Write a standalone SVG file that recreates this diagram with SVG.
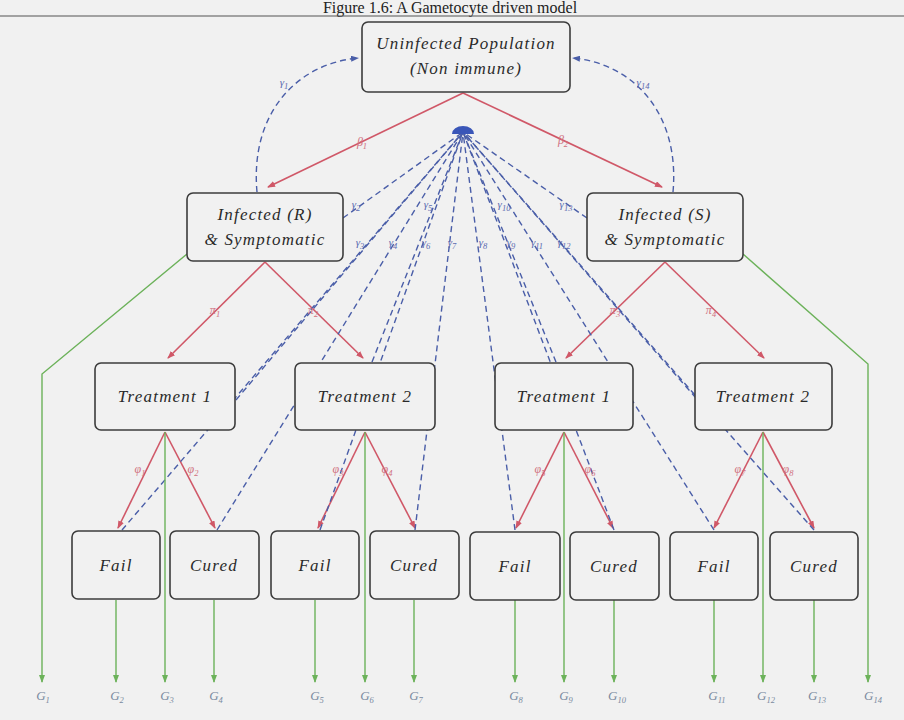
<svg xmlns="http://www.w3.org/2000/svg" width="904" height="720" viewBox="0 0 904 720">
  <style>
    .bg { fill: #f1f1f1; }
    .box { fill: #f1f1f1; stroke: #3c3c3c; stroke-width: 1.6; }
    .lbl { font-family: "Liberation Serif", "DejaVu Serif", serif; font-style: italic; font-size: 17px; letter-spacing: 1.2px; fill: #2a2a2a; text-anchor: middle; }
    .red { stroke: #d05868; stroke-width: 1.6; fill: none; }
    .blue { stroke: #4a5ea8; stroke-width: 1.4; fill: none; stroke-dasharray: 6 4; }
    .green { stroke: #6cb25a; stroke-width: 1.4; fill: none; }
    .rt { font-family: "Liberation Serif", serif; font-style: italic; font-size: 12px; fill: #d07080; text-anchor: middle; }
    .bt { font-family: "Liberation Serif", serif; font-style: italic; font-size: 11px; fill: #5a6ab0; text-anchor: middle; }
    .gt { font-family: "Liberation Serif", serif; font-style: italic; font-size: 13px; fill: #7a8aa0; text-anchor: middle; }
    .sub { font-size: 8.5px; }
    .title { font-family: "Liberation Serif", serif; font-size: 16px; fill: #222; text-anchor: middle; }
  </style>
  <defs>
    <marker id="ar" markerWidth="8" markerHeight="6" refX="7" refY="3" orient="auto" markerUnits="userSpaceOnUse">
      <path d="M0,0 L8,3 L0,6 Z" fill="#d05868"/>
    </marker>
    <marker id="ag" markerWidth="8" markerHeight="6" refX="7" refY="3" orient="auto" markerUnits="userSpaceOnUse">
      <path d="M0,0 L8,3 L0,6 Z" fill="#6cb25a"/>
    </marker>
    <marker id="ab" markerWidth="8" markerHeight="6" refX="7" refY="3" orient="auto" markerUnits="userSpaceOnUse">
      <path d="M0,0 L8,3 L0,6 Z" fill="#4a5ea8"/>
    </marker>
  </defs>

  <rect class="bg" x="0" y="0" width="904" height="720"/>

  <!-- caption -->
  <text class="title" x="450" y="13">Figure 1.6: A Gametocyte driven model</text>
  <line x1="0" y1="16" x2="904" y2="16" stroke="#555" stroke-width="1.2"/>

  <g id="connectors">
    <!-- infection -->
    <line class="red" x1="463" y1="93" x2="268" y2="187" marker-end="url(#ar)"/>
    <line class="red" x1="463" y1="93" x2="662" y2="187" marker-end="url(#ar)"/>
    <!-- treatment choice -->
    <line class="red" x1="265" y1="262" x2="168" y2="358" marker-end="url(#ar)"/>
    <line class="red" x1="265" y1="262" x2="363" y2="358" marker-end="url(#ar)"/>
    <line class="red" x1="665" y1="262" x2="566" y2="358" marker-end="url(#ar)"/>
    <line class="red" x1="665" y1="262" x2="764" y2="358" marker-end="url(#ar)"/>
    <!-- treatment outcome -->
    <line class="red" x1="165" y1="432" x2="118" y2="528" marker-end="url(#ar)"/>
    <line class="red" x1="165" y1="432" x2="215" y2="528" marker-end="url(#ar)"/>
    <line class="red" x1="365" y1="432" x2="318" y2="528" marker-end="url(#ar)"/>
    <line class="red" x1="365" y1="432" x2="415" y2="528" marker-end="url(#ar)"/>
    <line class="red" x1="564" y1="432" x2="516" y2="528" marker-end="url(#ar)"/>
    <line class="red" x1="564" y1="432" x2="613" y2="528" marker-end="url(#ar)"/>
    <line class="red" x1="763" y1="432" x2="714" y2="528" marker-end="url(#ar)"/>
    <line class="red" x1="763" y1="432" x2="814" y2="528" marker-end="url(#ar)"/>

    <!-- recovery straight back to the uninfected pool -->
    <path class="blue" d="M257,192 C250,115 295,64 358,58" marker-end="url(#ab)"/>
    <path class="blue" d="M673,192 C680,115 635,64 573,58" marker-end="url(#ab)"/>

    <!-- recovery through the collector point -->
    <line class="blue" x1="343" y1="218" x2="463" y2="132"/>
    <line class="blue" x1="236" y1="400" x2="463" y2="132"/>
    <line class="blue" x1="372" y1="362" x2="463" y2="132"/>
    <line class="blue" x1="122" y1="530" x2="463" y2="132"/>
    <line class="blue" x1="217" y1="530" x2="463" y2="132"/>
    <line class="blue" x1="320" y1="530" x2="463" y2="132"/>
    <line class="blue" x1="415" y1="530" x2="463" y2="132"/>
    <line class="blue" x1="515" y1="530" x2="463" y2="132"/>
    <line class="blue" x1="556" y1="362" x2="463" y2="132"/>
    <line class="blue" x1="614" y1="530" x2="463" y2="132"/>
    <line class="blue" x1="714" y1="530" x2="463" y2="132"/>
    <line class="blue" x1="814" y1="530" x2="463" y2="132"/>
    <line class="blue" x1="696" y1="398" x2="463" y2="132"/>
    <line class="blue" x1="587" y1="218" x2="463" y2="132"/>
    <path d="M452,134 A11,8 0 0 1 474,134 Z" fill="#3a56b8"/>

    <!-- gametocyte outputs -->
    <path class="green" d="M187,254 L42,374 L42,682" marker-end="url(#ag)"/>
    <path class="green" d="M743,254 L868,364 L868,682" marker-end="url(#ag)"/>
    <line class="green" x1="116" y1="600" x2="116" y2="682" marker-end="url(#ag)"/>
    <line class="green" x1="165" y1="432" x2="165" y2="682" marker-end="url(#ag)"/>
    <line class="green" x1="214" y1="600" x2="214" y2="682" marker-end="url(#ag)"/>
    <line class="green" x1="315" y1="600" x2="315" y2="682" marker-end="url(#ag)"/>
    <line class="green" x1="365" y1="432" x2="365" y2="682" marker-end="url(#ag)"/>
    <line class="green" x1="414" y1="600" x2="414" y2="682" marker-end="url(#ag)"/>
    <line class="green" x1="515" y1="600" x2="515" y2="682" marker-end="url(#ag)"/>
    <line class="green" x1="564" y1="432" x2="564" y2="682" marker-end="url(#ag)"/>
    <line class="green" x1="614" y1="600" x2="614" y2="682" marker-end="url(#ag)"/>
    <line class="green" x1="714" y1="600" x2="714" y2="682" marker-end="url(#ag)"/>
    <line class="green" x1="763" y1="432" x2="763" y2="682" marker-end="url(#ag)"/>
    <line class="green" x1="814" y1="600" x2="814" y2="682" marker-end="url(#ag)"/>

    <!-- rate labels -->
    <text class="rt" x="362" y="146">β<tspan class="sub" dy="3">1</tspan></text>
    <text class="rt" x="563" y="144">β<tspan class="sub" dy="3">2</tspan></text>
    <text class="rt" x="215" y="314">π<tspan class="sub" dy="3">1</tspan></text>
    <text class="rt" x="313" y="314">π<tspan class="sub" dy="3">2</tspan></text>
    <text class="rt" x="615" y="314">π<tspan class="sub" dy="3">3</tspan></text>
    <text class="rt" x="711" y="314">π<tspan class="sub" dy="3">4</tspan></text>
    <text class="rt" x="140" y="473">φ<tspan class="sub" dy="3">1</tspan></text>
    <text class="rt" x="193" y="473">φ<tspan class="sub" dy="3">2</tspan></text>
    <text class="rt" x="338" y="473">φ<tspan class="sub" dy="3">3</tspan></text>
    <text class="rt" x="387" y="473">φ<tspan class="sub" dy="3">4</tspan></text>
    <text class="rt" x="540" y="473">φ<tspan class="sub" dy="3">5</tspan></text>
    <text class="rt" x="590" y="473">φ<tspan class="sub" dy="3">6</tspan></text>
    <text class="rt" x="740" y="473">φ<tspan class="sub" dy="3">7</tspan></text>
    <text class="rt" x="788" y="473">φ<tspan class="sub" dy="3">8</tspan></text>

    <text class="bt" x="284" y="86">γ<tspan class="sub" dy="3">1</tspan></text>
    <text class="bt" x="643" y="86">γ<tspan class="sub" dy="3">14</tspan></text>
    <text class="bt" x="356" y="208">γ<tspan class="sub" dy="3">2</tspan></text>
    <text class="bt" x="428" y="208">γ<tspan class="sub" dy="3">5</tspan></text>
    <text class="bt" x="504" y="208">γ<tspan class="sub" dy="3">10</tspan></text>
    <text class="bt" x="566" y="208">γ<tspan class="sub" dy="3">13</tspan></text>
    <text class="bt" x="360" y="246">γ<tspan class="sub" dy="3">3</tspan></text>
    <text class="bt" x="393" y="246">γ<tspan class="sub" dy="3">4</tspan></text>
    <text class="bt" x="426" y="246">γ<tspan class="sub" dy="3">6</tspan></text>
    <text class="bt" x="452" y="246">γ<tspan class="sub" dy="3">7</tspan></text>
    <text class="bt" x="483" y="246">γ<tspan class="sub" dy="3">8</tspan></text>
    <text class="bt" x="511" y="246">γ<tspan class="sub" dy="3">9</tspan></text>
    <text class="bt" x="537" y="246">γ<tspan class="sub" dy="3">11</tspan></text>
    <text class="bt" x="564" y="246">γ<tspan class="sub" dy="3">12</tspan></text>

    <text class="gt" x="43" y="700">G<tspan class="sub" dy="3">1</tspan></text>
    <text class="gt" x="117" y="700">G<tspan class="sub" dy="3">2</tspan></text>
    <text class="gt" x="167" y="700">G<tspan class="sub" dy="3">3</tspan></text>
    <text class="gt" x="216" y="700">G<tspan class="sub" dy="3">4</tspan></text>
    <text class="gt" x="317" y="700">G<tspan class="sub" dy="3">5</tspan></text>
    <text class="gt" x="367" y="700">G<tspan class="sub" dy="3">6</tspan></text>
    <text class="gt" x="416" y="700">G<tspan class="sub" dy="3">7</tspan></text>
    <text class="gt" x="516" y="700">G<tspan class="sub" dy="3">8</tspan></text>
    <text class="gt" x="566" y="700">G<tspan class="sub" dy="3">9</tspan></text>
    <text class="gt" x="617" y="700">G<tspan class="sub" dy="3">10</tspan></text>
    <text class="gt" x="717" y="700">G<tspan class="sub" dy="3">11</tspan></text>
    <text class="gt" x="766" y="700">G<tspan class="sub" dy="3">12</tspan></text>
    <text class="gt" x="817" y="700">G<tspan class="sub" dy="3">13</tspan></text>
    <text class="gt" x="873" y="700">G<tspan class="sub" dy="3">14</tspan></text>
  </g>

  <g id="uninfected">
    <rect class="box" x="362" y="22" width="208" height="70" rx="6"/>
    <text class="lbl" x="466" y="49">Uninfected Population</text>
    <text class="lbl" x="466" y="74">(Non immune)</text>
  </g>
  <g id="infected-r">
    <rect class="box" x="187" y="193" width="156" height="68" rx="6"/>
    <text class="lbl" x="265" y="220">Infected (R)</text>
    <text class="lbl" x="265" y="245">&amp; Symptomatic</text>
  </g>
  <g id="infected-s">
    <rect class="box" x="587" y="193" width="156" height="68" rx="6"/>
    <text class="lbl" x="665" y="220">Infected (S)</text>
    <text class="lbl" x="665" y="245">&amp; Symptomatic</text>
  </g>

  <g id="r-treatment-1">
    <rect class="box" x="95" y="363" width="140" height="67" rx="6"/>
    <text class="lbl" x="165" y="402">Treatment 1</text>
  </g>
  <g id="r-treatment-2">
    <rect class="box" x="295" y="363" width="140" height="67" rx="6"/>
    <text class="lbl" x="365" y="402">Treatment 2</text>
  </g>
  <g id="s-treatment-1">
    <rect class="box" x="495" y="363" width="138" height="67" rx="6"/>
    <text class="lbl" x="564" y="402">Treatment 1</text>
  </g>
  <g id="s-treatment-2">
    <rect class="box" x="695" y="363" width="137" height="67" rx="6"/>
    <text class="lbl" x="763" y="402">Treatment 2</text>
  </g>

  <g id="fail-1">
    <rect class="box" x="72" y="531" width="88" height="68" rx="6"/>
    <text class="lbl" x="116" y="571">Fail</text>
  </g>
  <g id="cured-1">
    <rect class="box" x="170" y="531" width="89" height="68" rx="6"/>
    <text class="lbl" x="214" y="571">Cured</text>
  </g>
  <g id="fail-2">
    <rect class="box" x="271" y="531" width="88" height="68" rx="6"/>
    <text class="lbl" x="315" y="571">Fail</text>
  </g>
  <g id="cured-2">
    <rect class="box" x="370" y="531" width="89" height="68" rx="6"/>
    <text class="lbl" x="414" y="571">Cured</text>
  </g>
  <g id="fail-3">
    <rect class="box" x="470" y="532" width="90" height="68" rx="6"/>
    <text class="lbl" x="515" y="572">Fail</text>
  </g>
  <g id="cured-3">
    <rect class="box" x="570" y="532" width="89" height="68" rx="6"/>
    <text class="lbl" x="614" y="572">Cured</text>
  </g>
  <g id="fail-4">
    <rect class="box" x="670" y="532" width="88" height="68" rx="6"/>
    <text class="lbl" x="714" y="572">Fail</text>
  </g>
  <g id="cured-4">
    <rect class="box" x="770" y="532" width="88" height="68" rx="6"/>
    <text class="lbl" x="814" y="572">Cured</text>
  </g>
</svg>
